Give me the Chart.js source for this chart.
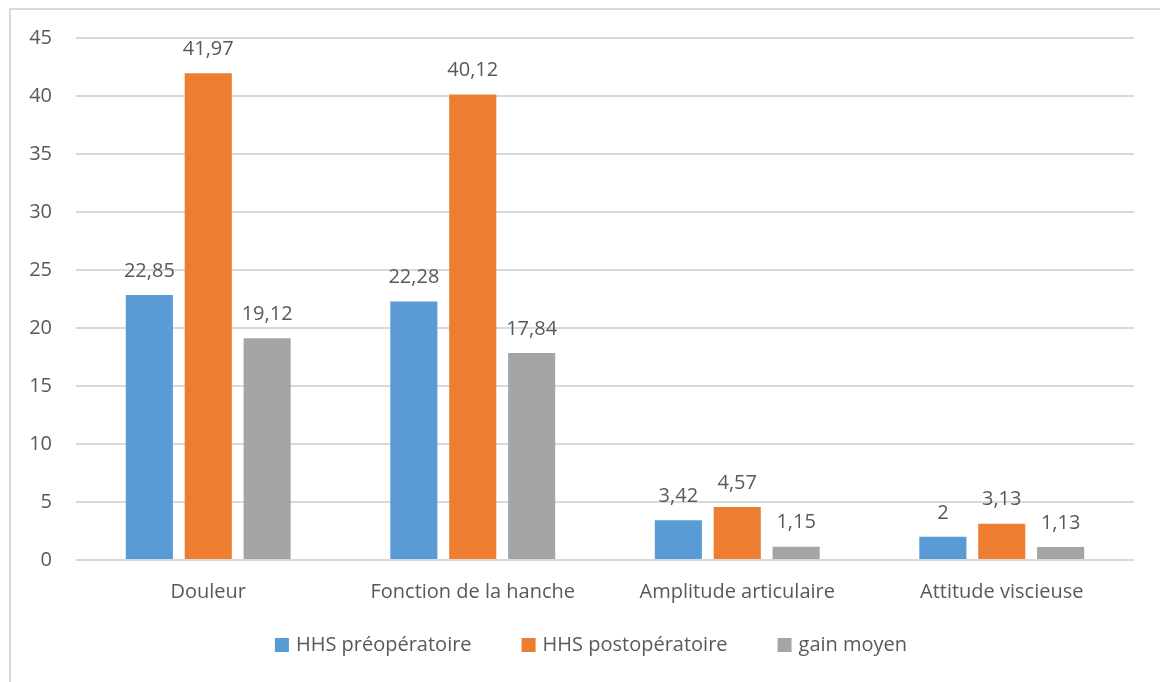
<!DOCTYPE html>
<html>
<head>
<meta charset="utf-8">
<script src="https://cdn.jsdelivr.net/npm/chart.js@4"></script>
<style>
  html, body { margin: 0; padding: 0; background: #fff; overflow: hidden; }
  #wrap { position: absolute; left: 0; top: 0; width: 1160px; height: 682px; }
</style>
</head>
<body>
<div id="wrap"><canvas id="hhsChart" width="1160" height="682"></canvas></div>
<script>
// scores HHS par composante
const categories = ['Douleur', 'Fonction de la hanche', 'Amplitude articulaire', 'Attitude viscieuse'];
const preop = [22.85, 22.28, 3.42, 2];
const postop = [41.97, 40.12, 4.57, 3.13];
const gain = [19.12, 17.84, 1.15, 1.13];
const seriesNames = ['HHS préopératoire', 'HHS postopératoire', 'gain moyen'];
const yTicks = [0, 5, 10, 15, 20, 25, 30, 35, 40, 45];

const textColor = '#595959';
const fontFamily = '"Open Sans", Lato, sans-serif';
const fontSize = 20;

// cadre gris autour du graphique
const frame = {
  id: 'frame',
  beforeDraw(chart) {
    const ctx = chart.ctx;
    ctx.save();
    ctx.strokeStyle = '#d9d9d9';
    ctx.lineWidth = 2;
    ctx.strokeRect(10, 9, 1200, 800);
    ctx.restore();
  }
};

// valeurs au-dessus des barres, virgule décimale
const valueLabels = {
  id: 'valueLabels',
  afterDatasetsDraw(chart) {
    const ctx = chart.ctx;
    ctx.save();
    ctx.fillStyle = textColor;
    ctx.font = fontSize + 'px ' + fontFamily;
    ctx.textAlign = 'center';
    ctx.textBaseline = 'middle';
    chart.data.datasets.forEach((ds, i) => {
      chart.getDatasetMeta(i).data.forEach((bar, j) => {
        const txt = String(ds.data[j]).replace('.', ',');
        ctx.fillText(txt, bar.x, bar.y - 24);
      });
    });
    ctx.restore();
  }
};

// légende en bas, centrée
const bottomLegend = {
  id: 'bottomLegend',
  afterDraw(chart) {
    const ctx = chart.ctx;
    const box = 14, gapText = 7, gapItem = 50, cy = 645;
    ctx.save();
    ctx.font = fontSize + 'px ' + fontFamily;
    ctx.textBaseline = 'middle';
    const items = chart.data.datasets.map(ds => ({
      label: ds.label, color: ds.backgroundColor, w: ctx.measureText(ds.label).width
    }));
    const total = items.reduce((s, it) => s + box + gapText + it.w, 0) + gapItem * (items.length - 1);
    let x = 591 - total / 2;
    items.forEach(it => {
      ctx.fillStyle = it.color;
      ctx.fillRect(x, cy - box / 2, box, box);
      x += box + gapText;
      ctx.fillStyle = textColor;
      ctx.fillText(it.label, x, cy);
      x += it.w + gapItem;
    });
    ctx.restore();
  }
};

const ctx = document.getElementById('hhsChart').getContext('2d');
new Chart(ctx, {
  type: 'bar',
  data: {
    labels: categories,
    datasets: [
      { label: seriesNames[0], data: preop, backgroundColor: '#5b9bd5' },
      { label: seriesNames[1], data: postop, backgroundColor: '#ed7d31' },
      { label: seriesNames[2], data: gain, backgroundColor: '#a5a5a5' }
    ]
  },
  options: {
    responsive: false,
    animation: false,
    categoryPercentage: 0.668,
    barPercentage: 0.8,
    layout: { padding: { top: 38, right: 26, left: 0, bottom: 0 } },
    plugins: {
      tooltip: { enabled: false },
      legend: { display: false }
    },
    scales: {
      x: {
        afterFit: s => { s.height = 122; },
        grid: { display: false, drawTicks: false },
        border: { display: false },
        ticks: { color: textColor, font: { family: fontFamily, size: fontSize }, padding: 20 }
      },
      y: {
        min: 0,
        max: 45,
        afterBuildTicks: s => { s.ticks = yTicks.map(v => ({ value: v })); },
        afterFit: s => { s.width = 76; },
        grid: { color: '#d9d9d9', lineWidth: 2, drawTicks: false },
        border: { display: false },
        ticks: { color: textColor, font: { family: fontFamily, size: fontSize }, padding: 24 }
      }
    }
  },
  plugins: [frame, valueLabels, bottomLegend]
});
</script>
</body>
</html>
